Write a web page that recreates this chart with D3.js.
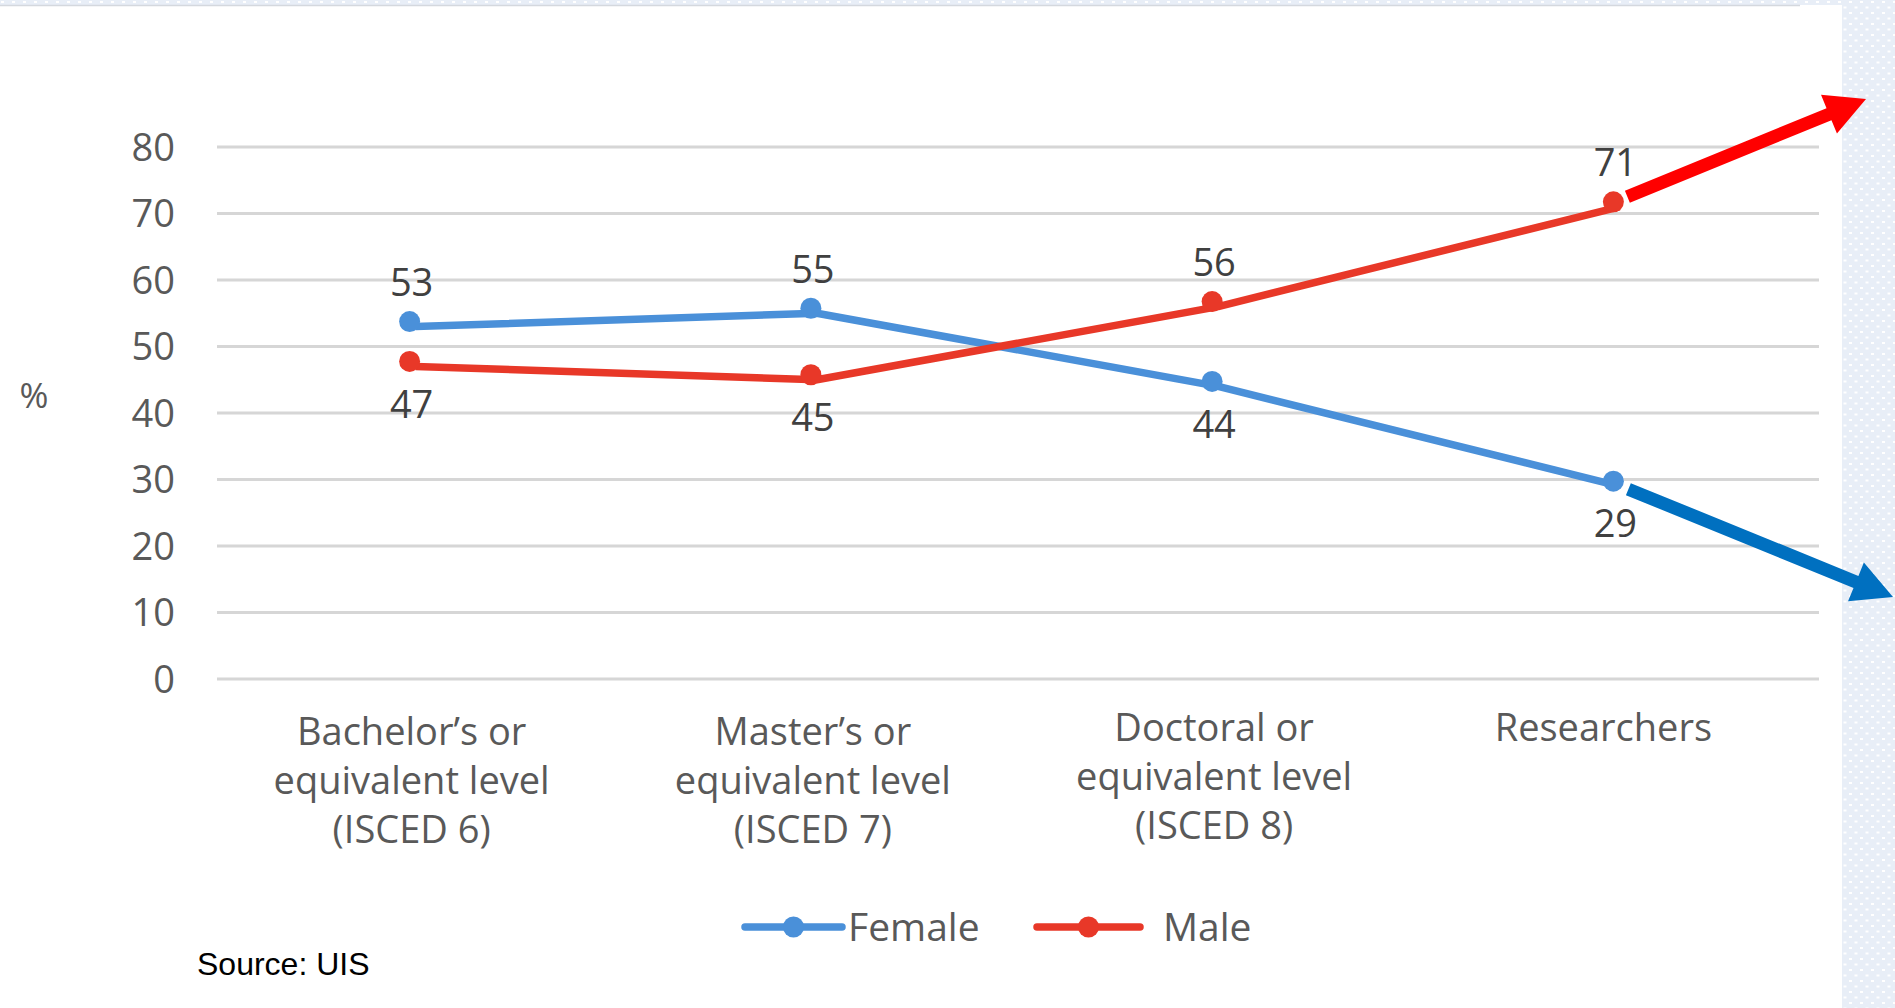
<!DOCTYPE html>
<html>
<head>
<meta charset="utf-8">
<script src="https://cdn.jsdelivr.net/npm/d3@7"></script>
<style>
  html, body { margin: 0; padding: 0; background: #ffffff; }
  svg { display: block; }
</style>
</head>
<body>
<svg id="chart" width="1895" height="1008"></svg>
<script>
// Share of women and men along the higher-education pipeline
const categories = [
  ["Bachelor\u2019s or", "equivalent level", "(ISCED 6)"],
  ["Master\u2019s or", "equivalent level", "(ISCED 7)"],
  ["Doctoral or", "equivalent level", "(ISCED 8)"],
  ["Researchers"]
];
const female = [53, 55, 44, 29];
const male = [47, 45, 56, 71];
const yTicks = [0, 10, 20, 30, 40, 50, 60, 70, 80];
const seriesNames = ["Female", "Male"];

const W = 1895, H = 1008;
const svg = d3.select("#chart");
const FONT = "'Open Sans', 'Noto Sans', sans-serif";
const colFemale = "#4a90d9", colMale = "#e83828";

// Decorative page elements: dotted strip at top and panel on the right
const defs = svg.append("defs");
const pat = defs.append("pattern").attr("id", "dots")
  .attr("patternUnits", "userSpaceOnUse").attr("width", 11).attr("height", 11);
pat.append("rect").attr("width", 11).attr("height", 11).attr("fill", "#e8eef7");
pat.append("rect").attr("x", 1).attr("y", 1).attr("width", 3).attr("height", 2).attr("fill", "#ffffff");
pat.append("rect").attr("x", 6.5).attr("y", 6.5).attr("width", 3).attr("height", 2).attr("fill", "#ffffff");

svg.append("rect").attr("x", 0).attr("y", 0).attr("width", W).attr("height", 5).attr("fill", "url(#dots)");
svg.append("line").attr("x1", 0).attr("x2", 1800).attr("y1", 5.5).attr("y2", 5.5)
  .attr("stroke", "#d4d8de").attr("stroke-width", 1.5);
svg.append("rect").attr("x", 1842).attr("y", 0).attr("width", W - 1842).attr("height", H).attr("fill", "url(#dots)");

// Scales
const x = d3.scaleBand().domain(d3.range(categories.length)).range([215, 1820]);
const cx = i => x(i) + x.bandwidth() / 2;
const y = d3.scaleLinear().domain([0, 80]).range([679, 147]);

// Gridlines and y-axis labels
const yAxis = d3.axisLeft(y).tickValues(yTicks).tickSize(0).tickPadding(0);
const gy = svg.append("g").attr("transform", "translate(175,0)").call(yAxis);
gy.select(".domain").remove();
gy.selectAll("text").attr("font-family", FONT).attr("font-size", 38)
  .attr("fill", "#595959").attr("dy", "0.35em");

svg.append("g").selectAll("line").data(yTicks).join("line")
  .attr("x1", 217).attr("x2", 1819)
  .attr("y1", d => y(d)).attr("y2", d => y(d))
  .attr("stroke", "#d6d6d6").attr("stroke-width", 3);

svg.append("text").attr("x", 34).attr("y", 396).attr("dy", "0.35em")
  .attr("text-anchor", "middle").attr("font-family", FONT).attr("font-size", 35)
  .attr("fill", "#595959").text("%");

// Category labels (single-line label sits a little left and higher)
const cat = svg.append("g").selectAll("text").data(categories).join("text")
  .attr("text-anchor", "middle").attr("font-family", FONT).attr("font-size", 38)
  .attr("fill", "#595959");
cat.each(function (lines, i) {
  const shiftX = lines.length === 1 ? -16 : -4;
  const shiftY = i >= 2 ? -4 : 0;
  d3.select(this).selectAll("tspan").data(lines).join("tspan")
    .attr("x", cx(i) + shiftX).attr("y", (d, k) => 732 + shiftY + k * 49).attr("dy", "0.35em")
    .text(d => d);
});

// Lines, markers and value labels
const line = d3.line().x((d, i) => cx(i)).y(d => y(d));
const series = [
  { name: seriesNames[0], values: female, color: colFemale },
  { name: seriesNames[1], values: male, color: colMale }
];
series.forEach(s => {
  svg.append("path").attr("d", line(s.values)).attr("fill", "none")
    .attr("stroke", s.color).attr("stroke-width", 7.5).attr("stroke-linejoin", "round");
});
series.forEach((s, si) => {
  const other = series[1 - si].values;
  svg.append("g").selectAll("circle").data(s.values).join("circle")
    .attr("cx", (d, i) => cx(i) - 6).attr("cy", (d, i) => y(d) - 5).attr("r", 10.5)
    .attr("fill", s.color);
  svg.append("g").selectAll("text").data(s.values).join("text")
    .attr("x", (d, i) => cx(i) - 4)
    .attr("y", (d, i) => d >= other[i] ? y(d) - 44 : y(d) + 38)
    .attr("dy", "0.35em").attr("text-anchor", "middle")
    .attr("font-family", FONT).attr("font-size", 38).attr("fill", "#404040")
    .text(d => d);
});

// Trend arrows leaving the last data point
function arrow(x0, y0, x1, y1, color) {
  const dx = x1 - x0, dy = y1 - y0, L = Math.hypot(dx, dy);
  const ux = dx / L, uy = dy / L, px = -uy, py = ux;
  const hl = 40, hw = 21, sw = 6.5;
  const bx = x1 - ux * hl, by = y1 - uy * hl;
  const pts = [
    [x0 + px * sw, y0 + py * sw], [bx + px * sw, by + py * sw],
    [bx + px * hw, by + py * hw], [x1, y1],
    [bx - px * hw, by - py * hw], [bx - px * sw, by - py * sw],
    [x0 - px * sw, y0 - py * sw]
  ];
  svg.append("polygon").attr("points", pts.map(p => p.join(",")).join(" ")).attr("fill", color);
}
const last = categories.length - 1;
arrow(cx(last) + 8, y(male[last]) - 10, 1866, 99, "#ff0000");
arrow(cx(last) + 9, y(female[last]) + 3, 1893, 597, "#0070c0");

// Legend
const leg = [
  { name: seriesNames[0], color: colFemale, x0: 745, x1: 842, tx: 848 },
  { name: seriesNames[1], color: colMale, x0: 1037, x1: 1140, tx: 1163 }
];
const lg = svg.append("g");
leg.forEach(l => {
  lg.append("line").attr("x1", l.x0).attr("x2", l.x1).attr("y1", 927).attr("y2", 927)
    .attr("stroke", l.color).attr("stroke-width", 7.5).attr("stroke-linecap", "round");
  lg.append("circle").attr("cx", (l.x0 + l.x1) / 2).attr("cy", 927).attr("r", 10.5).attr("fill", l.color);
  lg.append("text").attr("x", l.tx).attr("y", 927).attr("dy", "0.35em")
    .attr("font-family", FONT).attr("font-size", 39).attr("fill", "#595959").text(l.name);
});

// Source note
svg.append("text").attr("x", 197).attr("y", 964).attr("dy", "0.35em")
  .attr("font-family", "'Liberation Sans', Arial, sans-serif").attr("font-size", 32)
  .attr("fill", "#000000").text("Source: UIS");
</script>
</body>
</html>
